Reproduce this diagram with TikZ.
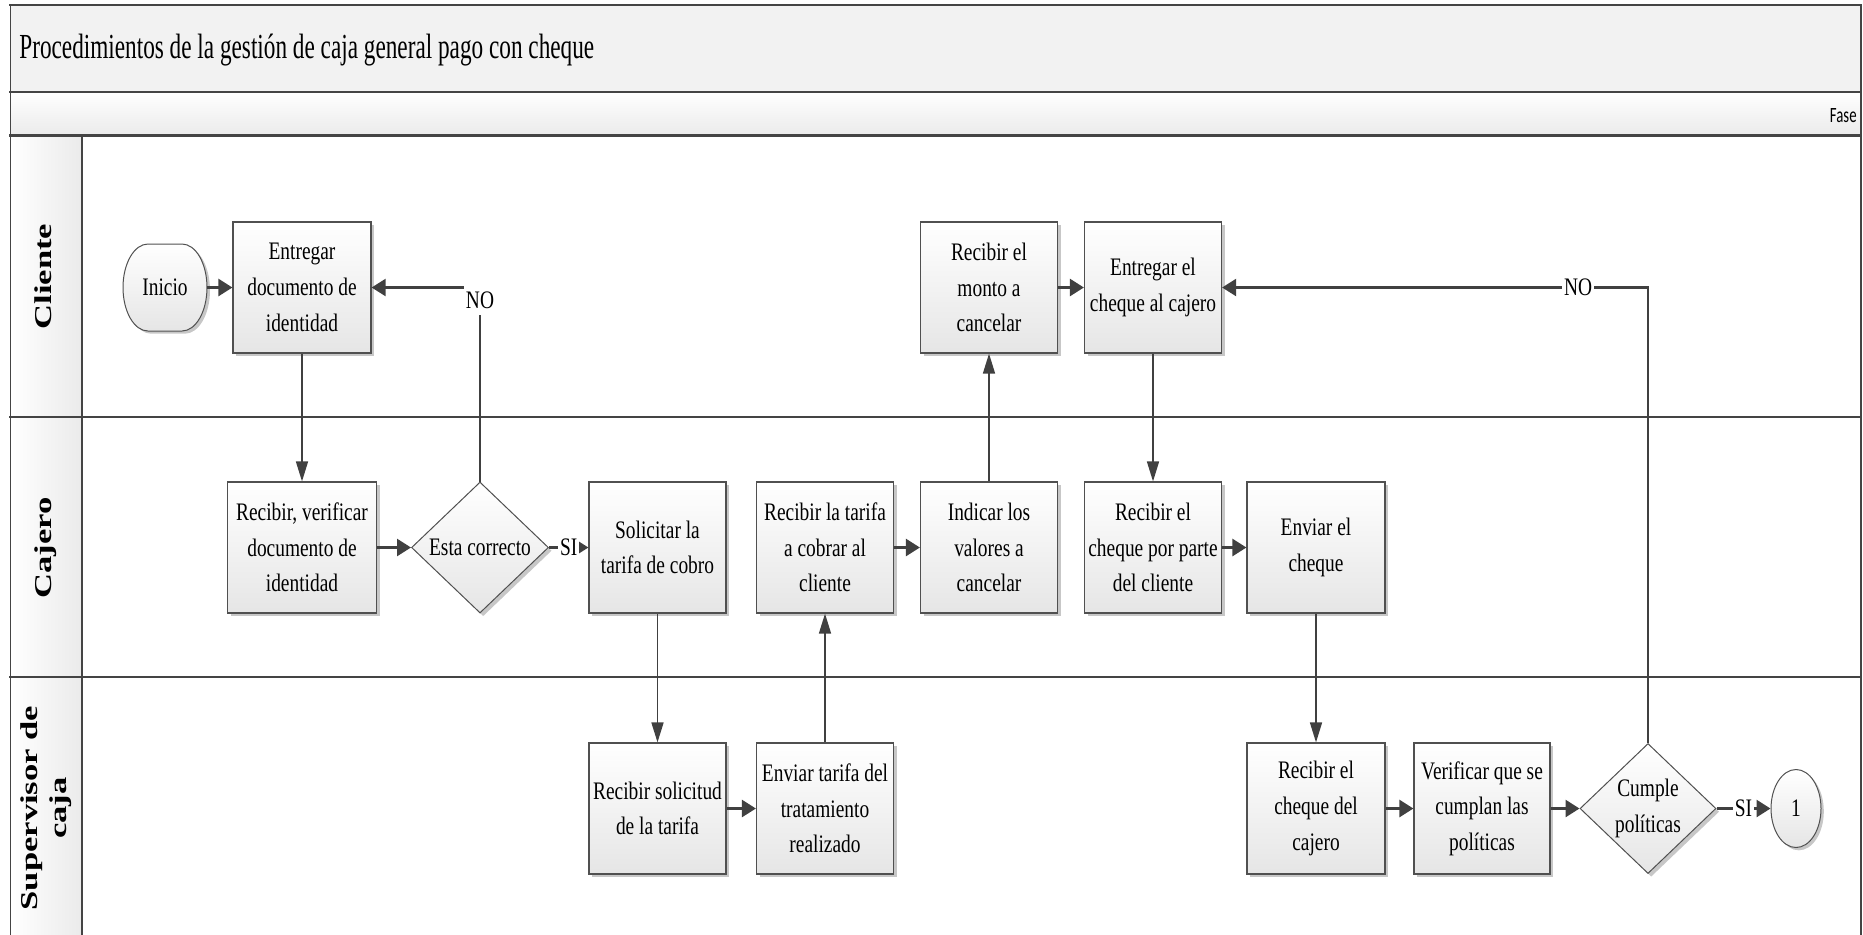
\documentclass[tikz,border=0pt]{standalone}
\usepackage{fontspec}
\usepackage{graphicx}
\setmainfont{Liberation Serif}[FakeStretch=0.77]
\newfontfamily\titlefont{Liberation Serif}[FakeStretch=0.66]
\newfontfamily\phasefont{Carlito}[FakeStretch=0.68]
\newfontfamily\lanefont{Liberation Serif}
\usetikzlibrary{arrows.meta,shapes.geometric,shadows}

\definecolor{framegray}{HTML}{444444}
\definecolor{linegray}{HTML}{404040}
\definecolor{bordergray}{HTML}{505050}

\newcommand\flowfont{\fontsize{12.6}{17.85}\selectfont}
\newcommand\lanelabel[1]{\scalebox{1}[0.7]{\lanefont\bfseries\fontsize{17.3}{20.7}\selectfont
  \begin{tabular}{@{}c@{}}#1\end{tabular}}}

\tikzset{
  frameh/.style={draw=framegray, line width=1.4pt, line cap=rect},
  framev/.style={draw=framegray, line width=0.9pt, line cap=rect},
  procbox/.style={rectangle, draw=bordergray, line width=0.6pt,
    top color=white, bottom color=black!10,
    minimum width=68.5pt, minimum height=65.5pt, inner sep=1pt,
    align=center, font=\flowfont,
    drop shadow={shadow xshift=1.6pt, shadow yshift=-1.6pt, fill=black, opacity=0.22}},
  decision/.style={diamond, draw=bordergray, line width=0.5pt,
    top color=white, bottom color=black!10,
    minimum width=68.5pt, minimum height=65.5pt, inner sep=0pt,
    drop shadow={shadow xshift=1.6pt, shadow yshift=-1.6pt, fill=black, opacity=0.22}},
  endcirc/.style={ellipse, draw=bordergray, line width=0.5pt,
    top color=white, bottom color=black!10,
    minimum width=25pt, minimum height=39pt, inner sep=0pt, font=\flowfont,
    drop shadow={shadow xshift=1.4pt, shadow yshift=-1.4pt, fill=black, opacity=0.22}},
  decisiontext/.style={align=center, font=\flowfont, inner sep=0pt},
  hflow/.style={draw=linegray, line width=1.3pt, -{Triangle[length=7pt,width=8.5pt]}},
  vflow/.style={draw=linegray, line width=0.8pt, -{Triangle[length=10pt,width=6pt]}},
  lflow/.style={draw=linegray, line width=1.1pt, -{Triangle[length=7pt,width=8.5pt]}},
  lbl/.style={fill=white, inner xsep=1pt, inner ysep=3pt, font=\flowfont},
}

\begin{document}
\begin{tikzpicture}[x=0.5pt, y=-0.5pt]
\useasboundingbox (0,0) rectangle (1863,934);

% header bands and lane-name column
\fill[black!5] (10.5,5) rectangle (1861,92);
\shade[top color=white, bottom color=black!8] (10.5,92) rectangle (1861,135.5);
\shade[left color=white, right color=black!8] (10.5,135.5) rectangle (82,940);

% pool frame and lane separators
\draw[frameh] (10.5,5) -- (1861,5);
\draw[frameh] (10.5,92) -- (1861,92);
\draw[frameh] (10.5,135.5) -- (1861,135.5);
\draw[frameh] (10.5,417) -- (1861,417);
\draw[frameh] (10.5,677) -- (1861,677);
\draw[framev] (10.5,5) -- (10.5,940);
\draw[framev] (1861,5) -- (1861,940);
\draw[framev] (82,135.5) -- (82,940);

% titles
\node[anchor=base west, inner sep=0pt, font=\titlefont\fontsize{17.6}{20}\selectfont] (title) at (19,58)
  {Procedimientos de la gestión de caja general pago con cheque};
\node[anchor=base east, inner sep=0pt, font=\phasefont\fontsize{10.9}{13}\selectfont] (fase) at (1857,122) {Fase};

% lane names
\node[rotate=90, inner sep=0pt] (laneA) at (46,276.5) {\lanelabel{Cliente}};
\node[rotate=90, inner sep=0pt] (laneB) at (46,548) {\lanelabel{Cajero}};
\node[rotate=90, inner sep=0pt] (laneC) at (46,808) {\lanelabel{Supervisor de\\caja}};

% start terminator (flat top and bottom, elliptic ends)
\fill[black, opacity=0.22] (151,246.7) -- (185,246.7)
  arc[start angle=90, end angle=-90, x radius=12.5pt, y radius=21.75pt] -- (151,333.7)
  arc[start angle=270, end angle=90, x radius=12.5pt, y radius=21.75pt] -- cycle;
\draw[draw=bordergray, line width=0.5pt, top color=white, bottom color=black!10]
  (148,244) -- (182,244)
  arc[start angle=90, end angle=-90, x radius=12.5pt, y radius=21.75pt] -- (148,331)
  arc[start angle=270, end angle=90, x radius=12.5pt, y radius=21.75pt] -- cycle;
\node[rectangle, minimum width=42pt, minimum height=43.5pt, inner sep=0pt, font=\flowfont] (ini) at (165,287.5) {Inicio};

% Cliente lane
\node[procbox, minimum width=69pt] (ent1) at (302,287.5) {Entregar\\documento de\\identidad};
\node[procbox] (mon) at (989,287.5) {Recibir el\\monto a\\cancelar};
\node[procbox] (ech) at (1153,287.5) {Entregar el\\cheque al cajero};

% Cajero lane
\node[procbox, minimum width=74.5pt] (rv) at (302,547.5) {Recibir, verificar\\documento de\\identidad};
\node[decision] (esta) at (480,547.5) {};
\node[decisiontext] (estatxt) at (esta.center) {Esta correcto};
\node[procbox] (sol) at (657.5,547.5) {Solicitar la\\tarifa de cobro};
\node[procbox] (rt) at (825,547.5) {Recibir la tarifa\\a cobrar al\\cliente};
\node[procbox] (ind) at (989,547.5) {Indicar los\\valores a\\cancelar};
\node[procbox] (rch) at (1153,547.5) {Recibir el\\cheque por parte\\del cliente};
\node[procbox, minimum width=69pt] (env) at (1316,547.5) {Enviar el\\cheque};

% Supervisor de caja lane
\node[procbox] (rsol) at (657.5,808.5) {Recibir solicitud\\de la tarifa};
\node[procbox] (etar) at (825,808.5) {Enviar tarifa del\\tratamiento\\realizado};
\node[procbox, minimum width=69pt] (rcc) at (1316,808.5) {Recibir el\\cheque del\\cajero};
\node[procbox, minimum width=68pt] (ver) at (1482,808.5) {Verificar que se\\cumplan las\\políticas};
\node[decision, minimum width=68pt, minimum height=65pt] (cum) at (1648,808.5) {};
\node[decisiontext] (cumtxt) at (cum.center) {Cumple\\políticas};
\node[endcirc] (one) at (1796,808.5) {1};

% flow connectors
\draw[hflow] (ini) -- (ent1);
\draw[vflow] (ent1) -- (rv);
\draw[hflow] (rv) -- (esta);
\draw[hflow] (esta) -- node[lbl] (si1) {SI} (sol);
\draw[vflow] (sol) -- (rsol);
\draw[hflow] (rsol) -- (etar);
\draw[vflow] (etar) -- (rt);
\draw[hflow] (rt) -- (ind);
\draw[vflow] (ind) -- (mon);
\draw[hflow] (mon) -- (ech);
\draw[vflow] (ech) -- (rch);
\draw[hflow] (rch) -- (env);
\draw[vflow] (env) -- (rcc);
\draw[hflow] (rcc) -- (ver);
\draw[hflow] (ver) -- (cum);
\draw[hflow] (cum) -- node[lbl] (si2) {SI} (one);

% return paths for the negative answers
\draw[lflow] (esta.north) |- (ent1.east);
\node[lbl, yshift=-6.5pt] (no1) at (esta.north |- ent1.east) {NO};
\draw[lflow] (cum.north) |- (ech.east);
\node[lbl, xshift=-35pt] (no2) at (cum.north |- ech.east) {NO};
\end{tikzpicture}
\end{document}
